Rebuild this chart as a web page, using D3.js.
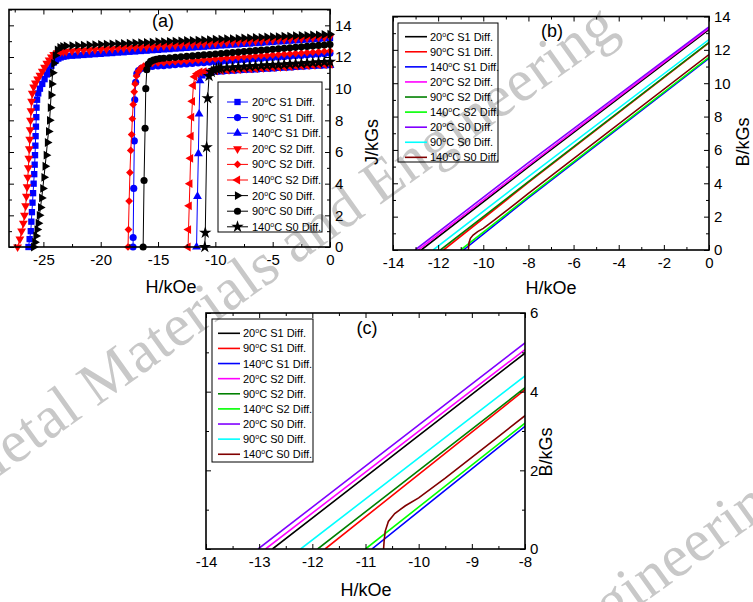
<!DOCTYPE html>
<html>
<head>
<script src="https://d3js.org/d3.v7.min.js"></script>
<style>
  body { margin: 0; background: #fff; }
  svg { display: block; font-family: "Liberation Sans", Arial, sans-serif; }
</style>
</head>
<body>
<script>
// ---------- panel (a): J vs H, steep part of each curve [H, J] ----------
const st20S1 = [[-26.3,0],[-26.2,0.5],[-26.1,1.0],[-26.05,1.6],[-26.0,2.2],[-25.95,2.8],[-25.9,3.4],[-25.85,4.0],[-25.8,4.6],[-25.76,5.2],[-25.73,5.8],[-25.7,6.4],[-25.68,7.0],[-25.65,7.6],[-25.62,8.2],[-25.6,8.8],[-25.55,9.3],[-25.45,9.7],[-25.3,10.0],[-25.1,10.3],[-24.9,10.6],[-24.7,10.9],[-24.5,11.2],[-24.3,11.45],[-24.1,11.65],[-23.9,11.8],[-23.7,11.9],[-23.5,11.97],[-23.25,12.02]];
const st90S1 = [[-17.18,0],[-17.17,0.6],[-17.12,3.7],[-17.07,6.7],[-17.03,9.3],[-16.95,10.4],[-16.85,10.95],[-16.7,11.15],[-16.45,11.28],[-16.2,11.34],[-15.9,11.38]];
const st140S1 = [[-11.64,0],[-11.56,3.2],[-11.48,5.9],[-11.42,8.4],[-11.34,10.5],[-11.2,10.8],[-11.0,10.92],[-10.75,10.98]];
const st20S2 = [[-27.25,0],[-27.05,0.5],[-26.9,1.0],[-26.75,1.5],[-26.65,2.0],[-26.55,2.6],[-26.48,3.2],[-26.42,3.8],[-26.36,4.4],[-26.31,5.0],[-26.27,5.6],[-26.23,6.2],[-26.19,6.8],[-26.15,7.4],[-26.12,8.0],[-26.08,8.6],[-26.03,9.2],[-25.97,9.7],[-25.85,10.1],[-25.7,10.35],[-25.5,10.6],[-25.3,10.85],[-25.1,11.1],[-24.9,11.35],[-24.7,11.6],[-24.5,11.8],[-24.3,12.0],[-24.1,12.15],[-23.8,12.27],[-23.5,12.32],[-23.25,12.34]];
const st90S2 = [[-17.62,0],[-17.58,1.1],[-17.52,2.9],[-17.45,4.7],[-17.38,6.1],[-17.3,7.1],[-17.24,8.1],[-17.17,9.0],[-17.08,9.8],[-17.0,10.3],[-16.88,10.8],[-16.72,11.1],[-16.5,11.3],[-16.25,11.42],[-16.0,11.5],[-15.75,11.56]];
const st140S2 = [[-12.38,0],[-12.34,1.1],[-12.28,2.6],[-12.22,4.0],[-12.16,5.6],[-12.12,7.0],[-12.07,8.2],[-12.0,9.2],[-11.92,10.2],[-11.8,10.75],[-11.6,10.95],[-11.35,11.05]];
const st20S0 = [[-25.85,0],[-25.75,0.3],[-25.65,0.7],[-25.55,1.1],[-25.45,1.5],[-25.35,2.0],[-25.25,2.5],[-25.15,3.1],[-25.05,3.7],[-24.95,4.4],[-24.85,5.1],[-24.75,5.8],[-24.65,6.6],[-24.55,7.3],[-24.46,8.0],[-24.39,8.8],[-24.33,9.6],[-24.27,10.3],[-24.19,11.0],[-24.09,11.6],[-23.96,12.1],[-23.78,12.45],[-23.55,12.6],[-23.3,12.66]];
const st90S0 = [[-16.3,0],[-16.22,4.2],[-16.13,7.5],[-16.07,10.0],[-15.98,11.2],[-15.85,11.55],[-15.65,11.72],[-15.4,11.8],[-15.15,11.86],[-14.85,11.9]];
const st140S0 = [[-10.92,0],[-10.88,0.9],[-10.76,6.3],[-10.67,9.4],[-10.55,10.8],[-10.35,11.05],[-10.15,11.18],[-9.9,11.25],[-9.7,11.28]];

// flat part: common H grid (kOe), each J list lines up with the tail of the grid
const hGrid = [-23,-22.5,-22,-21.5,-21,-20.5,-20,-19.5,-19,-18.5,-18,-17.5,-17,-16.5,-16,-15.5,-15,-14.5,-14,-13.5,-13,-12.5,-12,-11.5,-11,-10.5,-10,-9.5,-9,-8.5,-8,-7.5,-7,-6.5,-6,-5.5,-5,-4.5,-4,-3.5,-3,-2.5,-2,-1.5,-1,-0.5,0];
const fl20S1 = [12.05,12.08,12.10,12.13,12.15,12.18,12.20,12.23,12.25,12.28,12.30,12.33,12.35,12.38,12.40,12.43,12.45,12.48,12.50,12.53,12.55,12.58,12.60,12.63,12.65,12.68,12.70,12.73,12.75,12.78,12.80,12.83,12.85,12.88,12.90,12.93,12.95,12.98,13.00,13.03,13.05,13.08,13.10,13.13,13.15,13.18,13.20];
const fl90S1 = [11.40,11.43,11.45,11.48,11.51,11.54,11.56,11.59,11.62,11.64,11.67,11.70,11.72,11.75,11.78,11.81,11.83,11.86,11.89,11.91,11.94,11.97,11.99,12.02,12.05,12.08,12.10,12.13,12.16,12.18,12.21,12.24];
const fl140S1 = [11.02,11.04,11.06,11.08,11.10,11.13,11.15,11.17,11.19,11.21,11.23,11.25,11.27,11.29,11.31,11.34,11.36,11.38,11.40,11.42,11.44,11.46];
const fl20S2 = [12.36,12.38,12.40,12.42,12.44,12.46,12.48,12.50,12.52,12.54,12.56,12.58,12.60,12.62,12.64,12.66,12.68,12.70,12.72,12.74,12.76,12.78,12.80,12.82,12.84,12.86,12.88,12.90,12.92,12.94,12.96,12.98,13.00,13.02,13.04,13.06,13.08,13.10,13.12,13.14,13.16,13.18,13.20,13.22,13.24,13.26,13.28];
const fl90S2 = [11.60,11.63,11.65,11.68,11.70,11.73,11.75,11.78,11.80,11.83,11.85,11.88,11.90,11.93,11.95,11.98,12.00,12.03,12.05,12.08,12.10,12.13,12.15,12.18,12.20,12.23,12.25,12.28,12.30,12.33,12.35,12.38];
const fl140S2 = [11.08,11.10,11.12,11.14,11.16,11.19,11.21,11.23,11.25,11.27,11.29,11.31,11.33,11.35,11.37,11.40,11.42,11.44,11.46,11.48,11.50,11.52,11.54];
const fl20S0 = [12.70,12.72,12.73,12.75,12.76,12.78,12.80,12.81,12.83,12.84,12.86,12.88,12.89,12.91,12.92,12.94,12.96,12.97,12.99,13.00,13.02,13.04,13.05,13.07,13.08,13.10,13.12,13.13,13.15,13.16,13.18,13.20,13.21,13.23,13.24,13.26,13.28,13.29,13.31,13.32,13.34,13.36,13.37,13.39,13.40,13.42,13.44];
const fl90S0 = [11.92,11.95,11.98,12.01,12.04,12.07,12.10,12.13,12.16,12.19,12.22,12.25,12.28,12.31,12.34,12.37,12.40,12.43,12.46,12.49,12.52,12.55,12.58,12.61,12.64,12.67,12.70,12.73,12.76,12.79];
const fl140S0 = [11.30,11.32,11.34,11.36,11.38,11.41,11.43,11.45,11.47,11.49,11.51,11.53,11.55,11.57,11.59,11.62,11.64,11.66,11.68,11.70];

const labels = ["20°C S1 Diff.","90°C S1 Diff.","140°C S1 Diff.","20°C S2 Diff.","90°C S2 Diff.","140°C S2 Diff.","20°C S0 Diff.","90°C S0 Diff.","140°C S0 Diff."];

// ---------- panels (b), (c): B vs H [H, B] ----------
const b20S1 = [[-12.75,0],[-8,4.98],[0,13.22]];
const b90S1 = [[-11.76,0],[-8,4.05],[0,12.42]];
const b140S1 = [[-10.88,0],[-8,3.12],[0,11.5]];
const b20S2 = [[-12.88,0],[-8,5.07],[0,13.3]];
const b90S2 = [[-11.9,0],[-8,4.1],[0,12.45]];
const b140S2 = [[-11.0,0],[-8,3.2],[0,11.55]];
const b20S0 = [[-13.02,0],[-8,5.24],[0,13.38]];
const b90S0 = [[-12.22,0],[-8,4.4],[0,12.62]];
const b140S0 = [[-10.66,0],[-10.65,0.2],[-10.63,0.45],[-10.57,0.7],[-10.45,0.9],[-10.25,1.1],[-10.0,1.3],[-9.5,1.8],[-9.0,2.33],[-8.5,2.86],[-8,3.39],[0,11.72]];

const tail = (fl) => hGrid.slice(hGrid.length - fl.length).map((h, i) => [h, fl[i]]);
const blue = "#0000ff", red = "#ff0000", black = "#000000";
const seriesA = [
  { pts: st20S1.concat(tail(fl20S1)), color: blue, sym: d3.symbolSquare, size: 40, rot: 0 },
  { pts: st90S1.concat(tail(fl90S1)), color: blue, sym: d3.symbolCircle, size: 40, rot: 0 },
  { pts: st140S1.concat(tail(fl140S1)), color: blue, sym: d3.symbolTriangle, size: 34, rot: 0 },
  { pts: st20S2.concat(tail(fl20S2)), color: red, sym: d3.symbolTriangle, size: 34, rot: 180 },
  { pts: st90S2.concat(tail(fl90S2)), color: red, sym: d3.symbolSquare, size: 30, rot: 45 },
  { pts: st140S2.concat(tail(fl140S2)), color: red, sym: d3.symbolTriangle, size: 34, rot: -90 },
  { pts: st20S0.concat(tail(fl20S0)), color: black, sym: d3.symbolTriangle, size: 34, rot: 90 },
  { pts: st90S0.concat(tail(fl90S0)), color: black, sym: d3.symbolCircle, size: 40, rot: 0 },
  { pts: st140S0.concat(tail(fl140S0)), color: black, sym: d3.symbolStar, size: 48, rot: 0 }
];
const seriesB = [
  { pts: b20S1, color: "#000000" }, { pts: b90S1, color: "#ff0000" }, { pts: b140S1, color: "#0000ff" },
  { pts: b20S2, color: "#ff00ff" }, { pts: b90S2, color: "#008000" }, { pts: b140S2, color: "#00ff00" },
  { pts: b20S0, color: "#8000ff" }, { pts: b90S0, color: "#00ffff" }, { pts: b140S0, color: "#800000" }
];

const svg = d3.select("body").append("svg").attr("width", 753).attr("height", 602);

// watermark, under everything
[[-31, 498], [146, 958]].forEach(p => {
  svg.append("text")
    .attr("transform", "translate(" + p[0] + "," + p[1] + ") rotate(-35.5)")
    .attr("font-family", "Liberation Serif, serif").attr("font-size", 60)
    .attr("fill", "#c8c8c8").attr("textLength", 800).attr("lengthAdjust", "spacing")
    .text("Metal Materials and Engineering");
});

const fmt = d => String(d);
function axes(g, x, y, xt, xm, yt, ym) {
  const [x0, x1] = x.range(), [y0, y1] = y.range();
  g.append("g").attr("transform", "translate(0," + y0 + ")")
    .call(d3.axisBottom(x).tickValues(xt).tickSize(-5).tickPadding(7).tickFormat(fmt));
  g.append("g").attr("transform", "translate(0," + y0 + ")")
    .call(d3.axisBottom(x).tickValues(xm).tickSize(-3).tickFormat(""));
  g.append("g").attr("transform", "translate(0," + y1 + ")")
    .call(d3.axisTop(x).tickValues(xt).tickSize(-5).tickFormat(""));
  g.append("g").attr("transform", "translate(0," + y1 + ")")
    .call(d3.axisTop(x).tickValues(xm).tickSize(-3).tickFormat(""));
  g.append("g").attr("transform", "translate(" + x1 + ",0)")
    .call(d3.axisRight(y).tickValues(yt).tickSize(-5).tickPadding(5).tickFormat(fmt));
  g.append("g").attr("transform", "translate(" + x1 + ",0)")
    .call(d3.axisRight(y).tickValues(ym).tickSize(-3).tickFormat(""));
  g.append("g").attr("transform", "translate(" + x0 + ",0)")
    .call(d3.axisLeft(y).tickValues(yt).tickSize(-5).tickFormat(""));
  g.append("g").attr("transform", "translate(" + x0 + ",0)")
    .call(d3.axisLeft(y).tickValues(ym).tickSize(-3).tickFormat(""));
  g.selectAll(".domain").remove();
  g.selectAll(".tick line").attr("stroke", "#000").attr("stroke-width", 1);
  g.selectAll(".tick text").attr("font-size", 15).attr("fill", "#000")
    .attr("font-family", "Liberation Sans, Arial, sans-serif");
  g.append("rect").attr("x", x0).attr("y", y1).attr("width", x1 - x0).attr("height", y0 - y1)
    .attr("fill", "none").attr("stroke", "#000").attr("stroke-width", 1.6);
}

function legendText(t, s) {
  const parts = s.split("°");
  t.append("tspan").text(parts[0]);
  t.append("tspan").attr("font-size", 7).attr("dy", -4).text("o");
  t.append("tspan").attr("dy", 4).text(parts[1]);
}

function titles(title, xl, yl) {
  svg.append("text").attr("x", title[0]).attr("y", title[1]).attr("text-anchor", "middle")
    .attr("font-size", 18).text(title[2]);
  svg.append("text").attr("x", xl[0]).attr("y", xl[1]).attr("text-anchor", "middle")
    .attr("font-size", 18).text("H/kOe");
  svg.append("text").attr("transform", "translate(" + yl[0] + "," + yl[1] + ") rotate(-90)")
    .attr("text-anchor", "middle").attr("dy", "0.35em").attr("font-size", 18).text(yl[2]);
}

// ---------- panel (a) ----------
const xA = d3.scaleLinear().domain([-28, 0]).range([9, 330]);
const yA = d3.scaleLinear().domain([0, 15]).range([247, 9.5]);
const gA = svg.append("g");
const lineA = d3.line().x(d => xA(d[0])).y(d => yA(d[1]));
seriesA.forEach(s => {
  gA.append("path").attr("d", lineA(s.pts)).attr("fill", "none").attr("stroke", s.color).attr("stroke-width", 1);
  gA.selectAll(null).data(s.pts).enter().append("path")
    .attr("d", d3.symbol(s.sym, s.size))
    .attr("transform", d => "translate(" + xA(d[0]) + "," + yA(d[1]) + ") rotate(" + s.rot + ")")
    .attr("fill", s.color);
});
axes(gA, xA, yA, [-25, -20, -15, -10, -5, 0], [-27.5, -22.5, -17.5, -12.5, -7.5, -2.5],
  [0, 2, 4, 6, 8, 10, 12, 14], [1, 3, 5, 7, 9, 11, 13, 15]);
titles([163, 27, "(a)"], [171, 293], [372, 142, "J/kGs"]);

const legA = svg.append("g");
legA.append("rect").attr("x", 218).attr("y", 82).attr("width", 104).attr("height", 150)
  .attr("fill", "none").attr("stroke", "#000").attr("stroke-width", 1);
seriesA.forEach((s, i) => {
  const yy = 102 + i * 15.6;
  legA.append("line").attr("x1", 227).attr("x2", 248).attr("y1", yy).attr("y2", yy)
    .attr("stroke", s.color).attr("stroke-width", 1);
  legA.append("path").attr("d", d3.symbol(s.sym, s.size))
    .attr("transform", "translate(237.5," + yy + ") rotate(" + s.rot + ")").attr("fill", s.color);
  legendText(legA.append("text").attr("x", 252).attr("y", yy + 4).attr("font-size", 11), labels[i]);
});

// ---------- panels (b) and (c) ----------
function linePanel(id, x, y, xt, xm, yt, ym, leg) {
  const g = svg.append("g");
  const [x0, x1] = x.range(), [y0, y1] = y.range();
  g.append("clipPath").attr("id", id).append("rect")
    .attr("x", x0).attr("y", y1).attr("width", x1 - x0).attr("height", y0 - y1);
  const ln = d3.line().x(d => x(d[0])).y(d => y(d[1]));
  const body = g.append("g").attr("clip-path", "url(#" + id + ")");
  seriesB.forEach(s => {
    body.append("path").attr("d", ln(s.pts)).attr("fill", "none")
      .attr("stroke", s.color).attr("stroke-width", 1.6);
  });
  axes(g, x, y, xt, xm, yt, ym);
  g.append("rect").attr("x", leg.x).attr("y", leg.y).attr("width", leg.w).attr("height", leg.h)
    .attr("fill", "none").attr("stroke", "#000").attr("stroke-width", 1);
  seriesB.forEach((s, i) => {
    const yy = leg.first + i * leg.step;
    g.append("line").attr("x1", leg.lx).attr("x2", leg.lx + 22).attr("y1", yy).attr("y2", yy)
      .attr("stroke", s.color).attr("stroke-width", 1.6);
    legendText(g.append("text").attr("x", leg.lx + 25).attr("y", yy + 4).attr("font-size", 11), labels[i]);
  });
}

const xB = d3.scaleLinear().domain([-14, 0]).range([393, 709]);
const yB = d3.scaleLinear().domain([0, 14]).range([250, 16.5]);
linePanel("clipB", xB, yB, [-14, -12, -10, -8, -6, -4, -2, 0], [-13, -11, -9, -7, -5, -3, -1],
  [0, 2, 4, 6, 8, 10, 12, 14], [1, 3, 5, 7, 9, 11, 13],
  { x: 398, y: 23, w: 100, h: 139, first: 36.7, step: 15.08, lx: 405 });
titles([552, 37, "(b)"], [551, 294], [743, 142, "B/kGs"]);

const xC = d3.scaleLinear().domain([-14, -8]).range([206, 525]);
const yC = d3.scaleLinear().domain([0, 6]).range([549, 313]);
linePanel("clipC", xC, yC, [-14, -13, -12, -11, -10, -9, -8], [-13.5, -12.5, -11.5, -10.5, -9.5, -8.5],
  [0, 2, 4, 6], [1, 3, 5],
  { x: 212, y: 319, w: 101, h: 143, first: 333.3, step: 15.12, lx: 218 });
titles([367, 334, "(c)"], [366, 596], [546, 452, "B/kGs"]);
</script>
</body>
</html>
